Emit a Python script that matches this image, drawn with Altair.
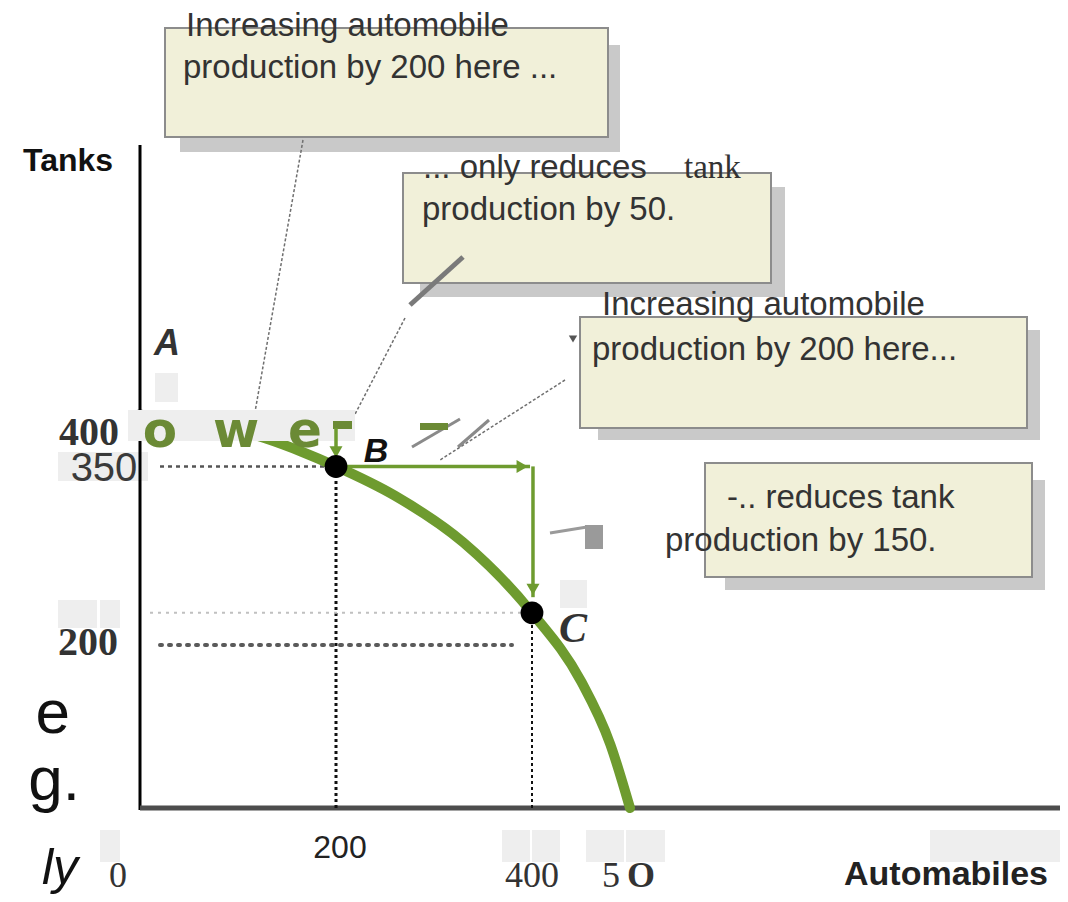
import altair as alt
import pandas as pd

# ---------------- data ----------------
automobiles = [0, 60, 130, 165, 200, 260, 330, 400, 450, 480, 500]
tanks = [400, 396, 378, 365, 350, 320, 272, 200, 130, 65, 0]

point_labels = ["B", "C"]
point_auto = [200, 400]
point_tanks = [350, 200]

y_tick_labels = ["400", "350", "200"]
x_tick_labels = ["0", "200", "400", "5", "O"]

box_lines = [
    "Increasing automobile", "production by 200 here ...",
    "... only reduces", "production by 50.",
    "Increasing automobile", "production by 200 here...",
    "-.. reduces tank", "production by 150.",
]

# ---------------- layout helpers (pixel -> data) ----------------
def X(px):
    return (px - 140) / 0.98


def Y(py):
    return (808 - py) / 0.976


XS = alt.Scale(domain=[X(8), X(1060)], nice=False, zero=False)
YS = alt.Scale(domain=[Y(894), Y(8)], nice=False, zero=False)


def enc_xy():
    return dict(x=alt.X("x:Q", scale=XS, axis=None), y=alt.Y("y:Q", scale=YS, axis=None))


def rects(boxes_px, **kw):
    df = pd.DataFrame([dict(x0=X(a), y0=Y(b), x1=X(c), y1=Y(d)) for a, b, c, d in boxes_px])
    return alt.Chart(df).mark_rect(**kw).encode(
        x=alt.X("x0:Q", scale=XS, axis=None), x2="x1:Q",
        y=alt.Y("y0:Q", scale=YS, axis=None), y2="y1:Q")


def segs(rows, **kw):
    df = pd.DataFrame([dict(x0=a, y0=b, x1=c, y1=d) for a, b, c, d in rows])
    return alt.Chart(df).mark_rule(**kw).encode(
        x=alt.X("x0:Q", scale=XS, axis=None), x2="x1:Q",
        y=alt.Y("y0:Q", scale=YS, axis=None), y2="y1:Q")


def texts(rows, **kw):
    df = pd.DataFrame([dict(t=t, x=x, y=y) for t, x, y in rows])
    return alt.Chart(df).mark_text(**kw).encode(text="t:N", **enc_xy())


def pxseg(a, b, c, d):
    return (X(a), Y(b), X(c), Y(d))


GREEN = "#6e9b2f"
OLIVE = "#6b8a35"

layers = []

# light grey placeholder blocks
layers.append(rects([
    (155, 373, 178, 402), (58, 452, 148, 481), (58, 600, 97, 628), (100, 600, 120, 628),
    (100, 830, 120, 862), (502, 830, 530, 862), (532, 830, 560, 862), (586, 830, 624, 862),
    (626, 830, 665, 862), (930, 830, 1060, 862), (560, 580, 587, 608),
], color="#eeeeee"))

# annotation boxes: shadows then boxes
layers.append(rects([
    (180, 45, 620, 152), (420, 187, 785, 297), (598, 330, 1040, 440), (725, 480, 1045, 590),
], color="#c9c9c9"))
layers.append(rects([
    (165, 28, 608, 137), (403, 173, 771, 283), (580, 317, 1027, 428), (705, 463, 1032, 577),
], color="#f1f0d9", stroke="#8c8c8c", strokeWidth=2))

# leader lines
layers.append(segs([
    pxseg(303, 140, 255, 412), pxseg(405, 318, 352, 420), pxseg(565, 380, 440, 460),
], color="#6f6f6f", strokeWidth=1.5, strokeDash=[3, 2]))
layers.append(segs([pxseg(410, 305, 463, 257)], color="#7a7a7a", strokeWidth=5))
layers.append(segs([pxseg(412, 447, 460, 419), pxseg(458, 447, 489, 420)], color="#8a8a8a", strokeWidth=3))
layers.append(segs([pxseg(550, 533, 587, 527)], color="#9a9a9a", strokeWidth=3))
layers.append(rects([(585, 525, 603, 549)], color="#9a9a9a"))
layers.append(rects([(420, 423, 448, 430)], color=OLIVE))
layers.append(alt.Chart(pd.DataFrame([dict(x=X(573), y=Y(339))])).mark_point(
    shape="triangle-down", filled=True, size=70, color="#555555", opacity=1).encode(**enc_xy()))

# box texts
sans = dict(font="Liberation Sans", fontSize=33, color="#333333", align="left", baseline="alphabetic")
layers.append(texts([
    (box_lines[0], X(186), Y(36)), (box_lines[1], X(183), Y(78)),
    (box_lines[2], X(423), Y(178)), (box_lines[3], X(422), Y(220)),
    (box_lines[4], X(602), Y(315)), (box_lines[5], X(592), Y(360)),
    (box_lines[6], X(727), Y(508)), (box_lines[7], X(665), Y(551)),
], **sans))
layers.append(texts([("tank", X(684), Y(178))], font="Liberation Serif", fontSize=33,
                    color="#333333", align="left", baseline="alphabetic"))

# axes
layers.append(segs([(0, Y(810), 0, Y(145))], color="#000000", strokeWidth=3))
layers.append(segs([(0, 0, X(1060), 0)], color="#4d4d4d", strokeWidth=5))

# dotted guide lines
layers.append(segs([(X(160), 350, 200, 350)], color="#555555", strokeWidth=2.5, strokeDash=[4, 4]))
layers.append(segs([(200, 0, 200, 350)], color="#111111", strokeWidth=3, strokeDash=[3, 3]))
layers.append(segs([(X(150), 200, 400, 200)], color="#c0c0c0", strokeWidth=2, strokeDash=[3, 5]))
layers.append(segs([(X(160), Y(645), X(512), Y(645))], color="#5a5a5a", strokeWidth=4,
                   strokeDash=[2, 7], strokeCap="round"))
layers.append(segs([(400, 0, 400, 200)], color="#111111", strokeWidth=2, strokeDash=[3, 3]))

# point A (half hidden)
layers.append(alt.Chart(pd.DataFrame([dict(x=0, y=400)])).mark_point(
    shape="circle", filled=True, size=260, color="#000000", opacity=1).encode(**enc_xy()))

# production possibilities frontier
ppf = pd.DataFrame({"x": automobiles, "y": tanks})
layers.append(alt.Chart(ppf).mark_line(interpolate="monotone", color=GREEN, strokeWidth=10,
                                       strokeCap="round").encode(**enc_xy()))

# grey band and green "owe" fragment
layers.append(rects([(128, 410, 355, 441)], color="#eeeeee"))
layers.append(texts([("o", X(160), Y(447)), ("w", X(236), Y(447)), ("e", X(305), Y(447))],
                    font="DejaVu Sans", fontWeight="bold", fontSize=50, color=OLIVE,
                    align="center", baseline="alphabetic"))
layers.append(rects([(333, 421, 352, 429)], color=OLIVE))

# green arrows
layers.append(segs([(200, 350, 398, 350), (401, 350, 401, 216), (200, Y(428), 200, Y(452))],
                   color=GREEN, strokeWidth=3.5))
heads = pd.DataFrame([
    dict(x=390, y=350, s="triangle-right"),
    dict(x=401, y=224, s="triangle-down"),
    dict(x=200, y=Y(452), s="triangle-down"),
])
layers.append(alt.Chart(heads).mark_point(filled=True, size=170, color=GREEN, opacity=1).encode(
    shape=alt.Shape("s:N", scale=None, legend=None), **enc_xy()))

# points B and C
pts = pd.DataFrame({"x": point_auto, "y": point_tanks, "lab": point_labels})
layers.append(alt.Chart(pts).mark_point(shape="circle", filled=True, size=520, color="#000000",
                                        opacity=1).encode(**enc_xy()))

# point labels
layers.append(texts([("A", X(167), Y(355))], font="Liberation Sans", fontSize=36, fontWeight="bold",
                    fontStyle="italic", color="#333333", align="center", baseline="alphabetic"))
layers.append(texts([("B", X(376), Y(462))], font="Liberation Sans", fontSize=34, fontStyle="italic",
                    fontWeight="bold", color="#111111", align="center", baseline="alphabetic"))
layers.append(texts([("C", X(573), Y(642))], font="Liberation Serif", fontSize=42, fontWeight="bold",
                    fontStyle="italic", color="#333333", align="center", baseline="alphabetic"))

# axis titles
layers.append(texts([("Tanks", X(68), Y(171))], font="Liberation Sans", fontSize=32, fontWeight="bold",
                    color="#111111", align="center", baseline="alphabetic"))
layers.append(texts([("Automabiles", X(946), Y(885))], font="Liberation Sans", fontSize=34,
                    fontWeight="bold", color="#222222", align="center", baseline="alphabetic"))

# tick labels
serif_bold = dict(font="Liberation Serif", fontSize=40, fontWeight="bold", color="#333333",
                  align="center", baseline="alphabetic")
layers.append(texts([(y_tick_labels[0], X(89), Y(445)), (y_tick_labels[2], X(88), Y(655))], **serif_bold))
layers.append(texts([(y_tick_labels[1], X(104), Y(481))], font="Liberation Sans", fontSize=40,
                    color="#3a3a3a", align="center", baseline="alphabetic"))
layers.append(texts([(x_tick_labels[1], X(340), Y(858))], font="Liberation Sans", fontSize=32,
                    color="#222222", align="center", baseline="alphabetic"))
layers.append(texts([(x_tick_labels[0], X(118), Y(887)), (x_tick_labels[2], X(532), Y(887)),
                     (x_tick_labels[3], X(611), Y(887))],
                    font="Liberation Serif", fontSize=36, color="#333333", align="center",
                    baseline="alphabetic"))
layers.append(texts([(x_tick_labels[4], X(641), Y(887))], font="Liberation Serif", fontSize=36,
                    fontWeight="bold", color="#333333", align="center", baseline="alphabetic"))

# clipped text fragments at the left edge
layers.append(texts([("e", X(70), Y(733)), ("g.", X(80), Y(800))], font="Liberation Sans",
                    fontSize=62, color="#111111", align="right", baseline="alphabetic"))
layers.append(texts([("ly", X(78), Y(884))], font="Liberation Sans", fontSize=50, fontStyle="italic",
                    color="#111111", align="right", baseline="alphabetic"))

chart = alt.layer(*layers).properties(
    width=1052, height=886, padding=0, autosize="none"
).configure_view(stroke=None)

chart.save("out.html", embed_options={"renderer": "svg", "actions": False})
